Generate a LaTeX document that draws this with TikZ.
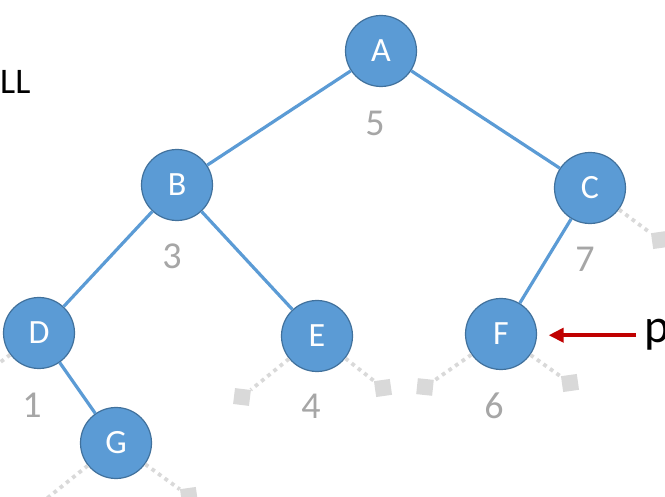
\documentclass[tikz,border=0pt]{standalone}
\usepackage{fontspec}
\setmainfont{Carlito}
\usepackage{xcolor}
\usetikzlibrary{arrows.meta}

\definecolor{nodeblue}{HTML}{5B9BD5}
\definecolor{nodeline}{HTML}{41719C}
\definecolor{numgray}{HTML}{A6A6A6}
\definecolor{nilgray}{HTML}{D9D9D9}
\definecolor{ptrred}{HTML}{C00000}

\begin{document}
\begin{tikzpicture}[x=1pt,y=-1pt,
    vert/.style={shape=circle, minimum size=71pt, inner sep=0pt, draw=nodeline, line width=1.2pt,
      fill=nodeblue, text=white, font=\fontsize{34}{38}\selectfont},
    num/.style={inner sep=0pt, text=numgray, font=\fontsize{38}{42}\selectfont},
    nil/.style={shape=rectangle, inner sep=0pt, minimum size=16pt, fill=nilgray},
    tree/.style={draw=nodeblue, line width=3.2pt},
    thread/.style={draw=nilgray, line width=3.8pt, dash pattern=on 3.8pt off 4.2pt},
    ptr/.style={draw=ptrred, line width=4pt, -{Triangle[length=15pt,width=14pt]}}]
    \useasboundingbox (0,0) rectangle (665,497);

    % tree nodes
    \node[vert] (A) at (381,51) {A};
    \node[vert] (B) at (177,185) {B};
    \node[vert] (C) at (590,188) {C};
    \node[vert] (D) at (39,333) {D};
    \node[vert] (E) at (317,336) {E};
    \node[vert] (F) at (501,334) {F};
    \node[vert] (G) at (116,443) {G};

    \draw[tree] (A) -- (B);
    \draw[tree] (A) -- (C);
    \draw[tree] (B) -- (D);
    \draw[tree] (B) -- (E);
    \draw[tree] (C) -- (F);
    \draw[tree] (D) -- (G);

    % in-order numbers
    \node[num] (nA) at (375,123) {5};
    \node[num] (nB) at (172,256) {3};
    \node[num] (nC) at (585,259) {7};
    \node[num] (nD) at (32,405) {1};
    \node[num] (nE) at (311,406) {4};
    \node[num] (nF) at (494,406) {6};

    % empty links
    \node[nil, rotate=-7] (Dl) at (-30,385) {};
    \node[nil, rotate=-7] (El) at (242,397) {};
    \node[nil, rotate=8] (Er) at (383,388) {};
    \node[nil, rotate=-6] (Fl) at (425,387) {};
    \node[nil, rotate=8] (Fr) at (570,383) {};
    \node[nil, rotate=8] (Cr) at (660,240) {};
    \node[nil, rotate=-7] (Gl) at (30,512) {};
    \node[nil, rotate=8] (Gr) at (189,496) {};
    \draw[thread] (D) -- (Dl);
    \draw[thread] (E) -- (El);
    \draw[thread] (E) -- (Er);
    \draw[thread] (F) -- (Fl);
    \draw[thread] (F) -- (Fr);
    \draw[thread] (C) -- (Cr);
    \draw[thread] (G) -- (Gl);
    \draw[thread] (G) -- (Gr);

    \node[anchor=west, inner sep=0pt, font=\fontsize{36}{40}\selectfont] (null) at (0,82) {LL};
    \node[anchor=base west, inner xsep=8pt, inner ysep=0pt, font=\fontsize{48}{52}\selectfont] (p) at (636,343) {p};
    \draw[ptr, shorten >=11.5pt] (p.west) -- (p.west -| F.east);
\end{tikzpicture}
\end{document}
